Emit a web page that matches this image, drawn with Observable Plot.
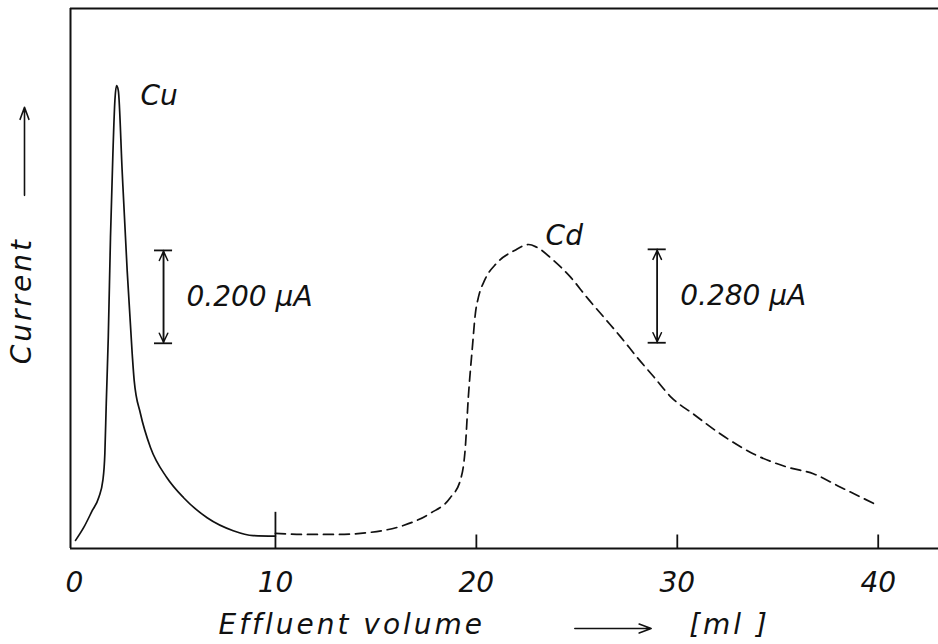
<!DOCTYPE html>
<html><head><meta charset="utf-8">
<script src="https://cdn.jsdelivr.net/npm/d3@7"></script>
<script src="https://cdn.jsdelivr.net/npm/@observablehq/plot@0.6"></script>
<style>body{margin:0;background:#fff;}</style>
</head><body><div id="chart"></div>
<script>
// Cu elution peak (solid line) — effluent volume [ml], current [relative units, 100 = top of frame]
const cuVolume  = [0.05, 0.46, 0.88, 1.21, 1.41, 1.51, 1.58, 1.68, 1.79, 1.91, 2.01, 2.09, 2.18, 2.37, 2.62, 2.87, 2.97, 3.28, 3.78, 4.6, 5.43, 6.6, 7.9, 8.9, 10.0];
const cuCurrent = [1.5, 3.9, 7.0, 9.5, 12.6, 17.6, 26.9, 39.1, 57.6, 73.1, 83.0, 85.7, 84.8, 70.0, 51.5, 36.1, 31.1, 25.0, 18.7, 13.1, 9.4, 5.7, 3.3, 2.4, 2.3];
// Cd elution peak (dashed line)
const cdVolume  = [10.0, 11.4, 13.1, 14.75, 16.4, 17.7, 18.7, 19.2, 19.45, 19.6, 19.8, 19.95, 20.1, 20.4, 21.0, 21.9, 22.6, 23.0, 23.85, 24.7, 25.5, 26.35, 27.2, 28.0, 28.85, 29.7, 30.8, 32.15, 33.8, 35.45, 36.8, 38.1, 39.8];
const cdCurrent = [2.8, 2.6, 2.6, 3.0, 4.3, 6.5, 9.4, 12.6, 18.7, 28.0, 37.2, 43.5, 46.5, 49.6, 52.8, 55.2, 56.3, 55.8, 53.3, 50.2, 46.5, 42.8, 39.1, 35.4, 31.7, 28.0, 24.9, 21.2, 17.5, 15.1, 13.8, 11.4, 8.3];

const xTicks = [0, 10, 20, 30, 40];
const peakNames = ["Cu", "Cd"];
const scaleBarLabels = ["0.200 \u03bcA", "0.280 \u03bcA"];
const scaleBarVolume = [4.43, 29.0];
const scaleBarLow  = [38.0, 38.1];
const scaleBarHigh = [55.2, 55.4];
const xDomain = [-0.2, 43];
const yDomain = [0, 100];
const yArrowSpan = [65.4, 81.7];
const yTitleCenter = 45.9;
const xArrowSpan = [24.9, 28.7];
const xTitleCenter = 13.8;
const xUnitCenter = 32.6;
const xTitle = "Effluent volume";
const xUnit = "[ml ]";
const yTitle = "Current";

const cu = cuVolume.map((v, i) => ({volume: v, current: cuCurrent[i]}));
const cd = cdVolume.map((v, i) => ({volume: v, current: cdCurrent[i]}));
const peakOf = arr => arr.reduce((a, b) => (b.current > a.current ? b : a));
const peaks = [{name: peakNames[0], ...peakOf(cu)}, {name: peakNames[1], ...peakOf(cd)}];
const bars = scaleBarLabels.map((label, i) => ({label, volume: scaleBarVolume[i], low: scaleBarLow[i], high: scaleBarHigh[i]}));

const ink = "#111";
const chart = Plot.plot({
  width: 938, height: 644,
  marginLeft: 70, marginRight: 0, marginTop: 8, marginBottom: 96,
  x: {domain: xDomain, axis: null},
  y: {domain: yDomain, axis: null},
  style: {fontFamily: "DejaVu Sans", fontStyle: "italic", fontSize: "28px", color: ink, background: "#fff"},
  marks: [
    // frame (left, top, bottom)
    Plot.ruleX([xDomain[0]], {stroke: ink, strokeWidth: 2}),
    Plot.ruleY(yDomain, {stroke: ink, strokeWidth: 2}),
    // inward tick marks
    Plot.ruleX(xTicks.filter(d => d > 0), {x: d => d, y1: 0, y2: d => (d === 10 ? 6.7 : 2.5), stroke: ink, strokeWidth: 1.8}),
    Plot.axisX(xTicks, {tickSize: 0, tickPadding: 24, fontSize: 28, fontStyle: "italic", label: null, tickFormat: d => String(d)}),
    // curves
    Plot.line(cu, {x: "volume", y: "current", curve: "monotone-x", stroke: ink, strokeWidth: 1.7}),
    Plot.line(cd, {x: "volume", y: "current", curve: "monotone-x", stroke: ink, strokeWidth: 1.7, strokeDasharray: "10,6"}),
    // peak labels
    Plot.text(peaks.slice(0, 1), {x: "volume", y: "current", text: "name", dx: 24, dy: 10, textAnchor: "start", fill: ink}),
    Plot.text(peaks.slice(1), {x: "volume", y: "current", text: "name", dx: 17, dy: -8, textAnchor: "start", fill: ink}),
    // scale bars
    Plot.arrow(bars, {x1: "volume", x2: "volume", y1: "low", y2: "high", headLength: 10, headAngle: 50, stroke: ink, strokeWidth: 1.5, insetEnd: 1}),
    Plot.arrow(bars, {x1: "volume", x2: "volume", y1: "high", y2: "low", headLength: 10, headAngle: 50, stroke: ink, strokeWidth: 1.5, insetEnd: 1}),
    Plot.ruleY(bars, {y: "low", x1: d => d.volume - 0.45, x2: d => d.volume + 0.45, stroke: ink, strokeWidth: 1.8}),
    Plot.ruleY(bars, {y: "high", x1: d => d.volume - 0.45, x2: d => d.volume + 0.45, stroke: ink, strokeWidth: 1.8}),
    Plot.text(bars, {x: "volume", y: d => (d.low + d.high) / 2, text: "label", dx: 23, textAnchor: "start", fill: ink}),
    // axis titles
    Plot.text([xTitle], {x: xTitleCenter, frameAnchor: "bottom", lineAnchor: "middle", textAnchor: "middle", dy: 77, text: d => d, fill: ink}),
    Plot.text([xUnit], {x: xUnitCenter, frameAnchor: "bottom", lineAnchor: "middle", textAnchor: "middle", dy: 77, text: d => d, fill: ink}),
    Plot.arrow([xArrowSpan], {x1: d => d[0], x2: d => d[1], y1: yDomain[0], y2: yDomain[0], dy: 80, headLength: 12, headAngle: 40, stroke: ink, strokeWidth: 1.6}),
    Plot.text([yTitle], {y: yTitleCenter, frameAnchor: "left", lineAnchor: "middle", textAnchor: "middle", dx: -48, rotate: -90, text: d => d, fill: ink}),
    Plot.arrow([yArrowSpan], {x1: xDomain[0], x2: xDomain[0], y1: d => d[0], y2: d => d[1], dx: -46, headLength: 12, headAngle: 40, stroke: ink, strokeWidth: 1.6})
  ]
});
document.getElementById("chart").appendChild(chart);
d3.select(chart).selectAll("text").filter(function() { return this.textContent === xTitle || this.textContent === yTitle || this.textContent === xUnit; }).attr("letter-spacing", "3px");
</script>
</body></html>
